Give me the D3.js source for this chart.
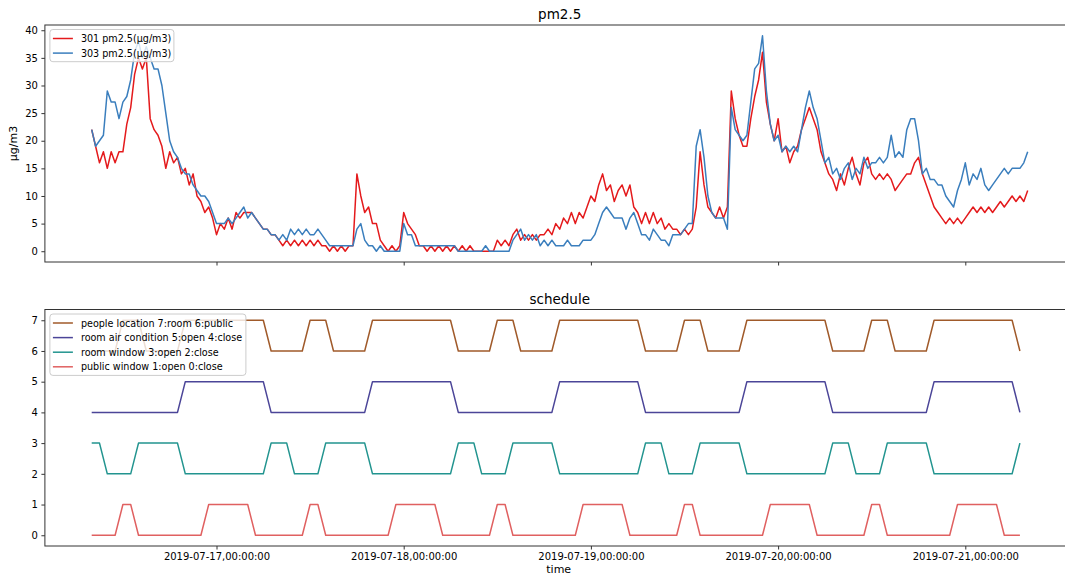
<!DOCTYPE html>
<html>
<head>
<meta charset="utf-8">
<script src="https://cdn.jsdelivr.net/npm/d3@7"></script>
<style>
    body{margin:0;background:#ffffff;}
    svg text{font-family:"DejaVu Sans",sans-serif;fill:#000;}
</style>
</head>
<body>
<div id="chart"></div>
<script>
// 0.data
// pm2.5 readings, one value every 30 minutes from pmStart
var pmStart = "2019-07-16 08:00";
var pmStepMinutes = 30;
var pm301 = [
    22,19,16,18,15,18,16,18, 18,23,26,32,35,33,35,24,
    22,21,19,15,18,16,17,14, 15,12,14,10,9,7,8,6,
    3,5,4,6,4,7,6,7, 7,7,6,5,4,4,3,3,
    2,1,2,1,2,1,2,1, 2,1,2,1,1,0,1,0,
    1,0,1,1,14,10,7,8, 5,5,2,1,0,1,0,1,
    7,5,4,3,1,1,0,1, 0,1,0,1,0,1,0,1,
    0,1,0,0,0,0,0,0, 2,1,2,1,3,4,2,3,
    2,3,2,3,3,4,3,5, 4,6,5,7,5,7,6,8,
    10,9,12,14,11,12,9,11, 12,10,12,8,7,5,7,5,
    7,5,6,4,5,4,4,3, 4,3,4,8,18,12,8,7,
    6,8,6,8,29,24,21,19, 19,24,28,31,36,27,23,20,
    24,18,19,16,18,19,22,24, 26,24,22,18,16,14,13,11,
    14,12,15,17,14,12,16,17, 14,13,14,13,14,13,11,12,
    13,14,14,16,17,14,12,10, 8,7,6,5,6,5,6,5,
    6,7,8,7,8,7,8,7, 8,9,8,9,10,9,10,9,
    11
];
var pm303 = [
    22,19,20,21,29,27,27,24, 27,28,31,36,38,35,37,35,
    33,33,30,25,20,18,17,15, 14,14,12,11,10,10,9,7,
    5,5,5,6,5,6,7,8, 6,7,6,5,4,4,3,3,
    2,3,2,4,3,4,3,4, 3,3,4,3,2,1,1,1,
    1,1,1,1,4,5,2,1, 1,0,1,0,0,0,0,0,
    5,3,3,1,1,1,1,1, 1,1,1,1,1,1,0,0,
    0,0,0,0,0,1,0,0, 0,0,0,0,2,3,4,2,
    3,2,3,1,2,1,2,1, 1,1,2,1,1,1,2,2,
    2,3,5,7,8,7,6,6, 6,4,6,7,5,3,3,2,
    4,3,2,2,1,3,3,3, 4,5,5,19,22,17,10,7,
    6,6,6,4,26,22,21,20, 21,27,33,34,39,29,23,20,
    21,18,19,18,19,18,22,26, 29,26,24,20,16,17,14,15,
    13,15,16,13,15,14,17,15, 16,16,17,16,17,21,17,18,
    17,22,24,24,20,14,15,13, 13,12,12,10,9,8,11,13,
    16,12,14,13,15,12,11,12, 13,14,15,14,15,15,15,16,
    18
];
var pmNames = ["301 pm2.5(\u03bcg/m3)", "303 pm2.5(\u03bcg/m3)"];

// schedule, line vertices as [hours after scheduleStart, value]
var scheduleStart = "2019-07-16 08:00";
var peopleLocation = [[0,6],[3,6],[4,7],[6,7],[7,6],[11,6],[12,7],[22,7],[23,6],[27,6],[28,7],[30,7],[31,6],
    [35,6],[36,7],[46,7],[47,6],[51,6],[52,7],[54,7],[55,6],[59,6],[60,7],[70,7],[71,6],[75,6],[76,7],
    [78,7],[79,6],[83,6],[84,7],[94,7],[95,6],[99,6],[100,7],[102,7],[103,6],[107,6],[108,7],[118,7],[119,6]];
var roomAirCondition = [[0,4],[11,4],[12,5],[22,5],[23,4],[35,4],[36,5],[46,5],[47,4],[59,4],[60,5],
    [70,5],[71,4],[83,4],[84,5],[94,5],[95,4],[107,4],[108,5],[118,5],[119,4]];
var roomWindow = [[0,3],[1,3],[2,2],[5,2],[6,3],[11,3],[12,2],[22,2],[23,3],[25,3],[26,2],[29,2],[30,3],
    [35,3],[36,2],[46,2],[47,3],[49,3],[50,2],[53,2],[54,3],[59,3],[60,2],[70,2],[71,3],[73,3],[74,2],
    [77,2],[78,3],[83,3],[84,2],[94,2],[95,3],[97,3],[98,2],[101,2],[102,3],[107,3],[108,2],[118,2],[119,3]];
var publicWindow = [[0,0],[3,0],[4,1],[5,1],[6,0],[14,0],[15,1],[20,1],[21,0],[27,0],[28,1],[29,1],[30,0],
    [38,0],[39,1],[44,1],[45,0],[51,0],[52,1],[53,1],[54,0],[62,0],[63,1],[68,1],[69,0],[75,0],[76,1],
    [77,1],[78,0],[86,0],[87,1],[92,1],[93,0],[99,0],[100,1],[101,1],[102,0],[110,0],[111,1],[116,1],[117,0],[119,0]];
var scheduleNames = ["people location 7:room 6:public", "room air condition 5:open 4:close",
    "room window 3:open 2:close", "public window 1:open 0:close"];

// axis
var xDomain = ["2019-07-16 02:00", "2019-07-21 14:00"];
var xTickDays = ["2019-07-17 00:00", "2019-07-18 00:00", "2019-07-19 00:00", "2019-07-20 00:00", "2019-07-21 00:00"];
var pmTicks = [0, 5, 10, 15, 20, 25, 30, 35, 40];
var pmDomain = [-1.95, 40.95];
var scheduleTicks = [0, 1, 2, 3, 4, 5, 6, 7];
var scheduleDomain = [-0.35, 7.35];

// colors
var pmColors = ["#e41a1c", "#3a7ebd"];
var scheduleColors = ["#a05a2a", "#4b4598", "#22948f", "#e06060"];

// 0.1.size
var svgBGW = 1065;
var svgBGH = 576;
var plotL = 44.9, plotR = 1074.5;
var topPanel = {top: 25, bottom: 262};
var botPanel = {top: 309.5, bottom: 546};

var parseTime = d3.timeParse("%Y-%m-%d %H:%M");

// 1.Add DOM elements
var svgBG = d3.select("#chart").append("svg")
    .attr("width", svgBGW).attr("height", svgBGH);

var xScale = d3.scaleTime()
    .domain(xDomain.map(parseTime))
    .range([plotL, plotR]);

var tickDates = xTickDays.map(parseTime);

function pmSeries(values){
    var t0 = parseTime(pmStart);
    return values.map(function(v, i){
        return {date: d3.timeMinute.offset(t0, i * pmStepMinutes), value: v};
    });
}
function scheduleSeries(vertices){
    var t0 = parseTime(scheduleStart);
    return vertices.map(function(p){
        return {date: d3.timeHour.offset(t0, p[0]), value: p[1]};
    });
}

function drawPanel(panel, yDomain, yTicks, series, colors, names, showXLabels, title, legendW){
    var yScale = d3.scaleLinear().domain(yDomain).range([panel.bottom, panel.top]);
    var g = svgBG.append("g");

    // y axis ticks
    var yAxis = g.append("g")
        .attr("transform", "translate(" + plotL + ",0)")
        .call(d3.axisLeft(yScale).tickValues(yTicks).tickSize(3.5).tickPadding(3.5));
    yAxis.select(".domain").remove();
    yAxis.selectAll("line").attr("stroke", "#333");
    yAxis.selectAll("text").style("font-size", "10px").attr("fill", "#000");

    // x axis ticks
    var xAxis = g.append("g")
        .attr("transform", "translate(0," + panel.bottom + ")")
        .call(d3.axisBottom(xScale).tickValues(tickDates).tickSize(3.5).tickPadding(3.5)
            .tickFormat(showXLabels ? d3.timeFormat("%Y-%m-%d,%H:%M:%S") : function(){ return ""; }));
    xAxis.select(".domain").remove();
    xAxis.selectAll("line").attr("stroke", "#333");
    xAxis.selectAll("text").style("font-size", "10px").attr("fill", "#000");

    // lines
    var line = d3.line()
        .x(function(d){ return xScale(d.date); })
        .y(function(d){ return yScale(d.value); });
    g.selectAll("path.series")
        .data(series)
        .enter().append("path")
        .attr("class", "series")
        .attr("d", line)
        .attr("fill", "none")
        .attr("stroke", function(d, i){ return colors[i]; })
        .attr("stroke-width", 1.5)
        .attr("stroke-linejoin", "round");

    // frame
    g.append("rect")
        .attr("x", plotL).attr("y", panel.top)
        .attr("width", plotR - plotL).attr("height", panel.bottom - panel.top)
        .attr("fill", "none").attr("stroke", "#333").attr("stroke-width", 1);

    // title
    g.append("text")
        .attr("x", (plotL + plotR) / 2).attr("y", panel.top - 6)
        .attr("text-anchor", "middle")
        .style("font-size", "13.5px")
        .text(title);

    // legend
    var lg = g.append("g").attr("transform", "translate(" + (plotL + 5) + "," + (panel.top + 4.5) + ")");
    lg.append("rect")
        .attr("width", legendW).attr("height", 3 + names.length * 14.6)
        .attr("rx", 3)
        .attr("fill", "#fff").attr("fill-opacity", 0.8)
        .attr("stroke", "#cccccc").attr("stroke-width", 1);
    names.forEach(function(name, i){
        var cy = 9 + i * 14.6;
        lg.append("line")
            .attr("x1", 3).attr("x2", 23).attr("y1", cy).attr("y2", cy)
            .attr("stroke", colors[i]).attr("stroke-width", 1.5);
        lg.append("text")
            .attr("x", 31).attr("y", cy + 3.6)
            .style("font-size", "9.6px")
            .text(name);
    });
}

// 2.top panel: pm2.5
drawPanel(topPanel, pmDomain, pmTicks, [pmSeries(pm301), pmSeries(pm303)],
    pmColors, pmNames, false, "pm2.5", 124);

svgBG.append("text")
    .attr("transform", "translate(17," + ((topPanel.top + topPanel.bottom) / 2) + ") rotate(-90)")
    .attr("text-anchor", "middle")
    .style("font-size", "11px")
    .text("\u03bcg/m3");

// 3.bottom panel: schedule
drawPanel(botPanel, scheduleDomain, scheduleTicks,
    [scheduleSeries(peopleLocation), scheduleSeries(roomAirCondition), scheduleSeries(roomWindow), scheduleSeries(publicWindow)],
    scheduleColors, scheduleNames, true, "schedule", 196);

svgBG.append("text")
    .attr("x", (plotL + plotR) / 2 - 1).attr("y", 573)
    .attr("text-anchor", "middle")
    .style("font-size", "11px")
    .text("time");
</script>
</body>
</html>
